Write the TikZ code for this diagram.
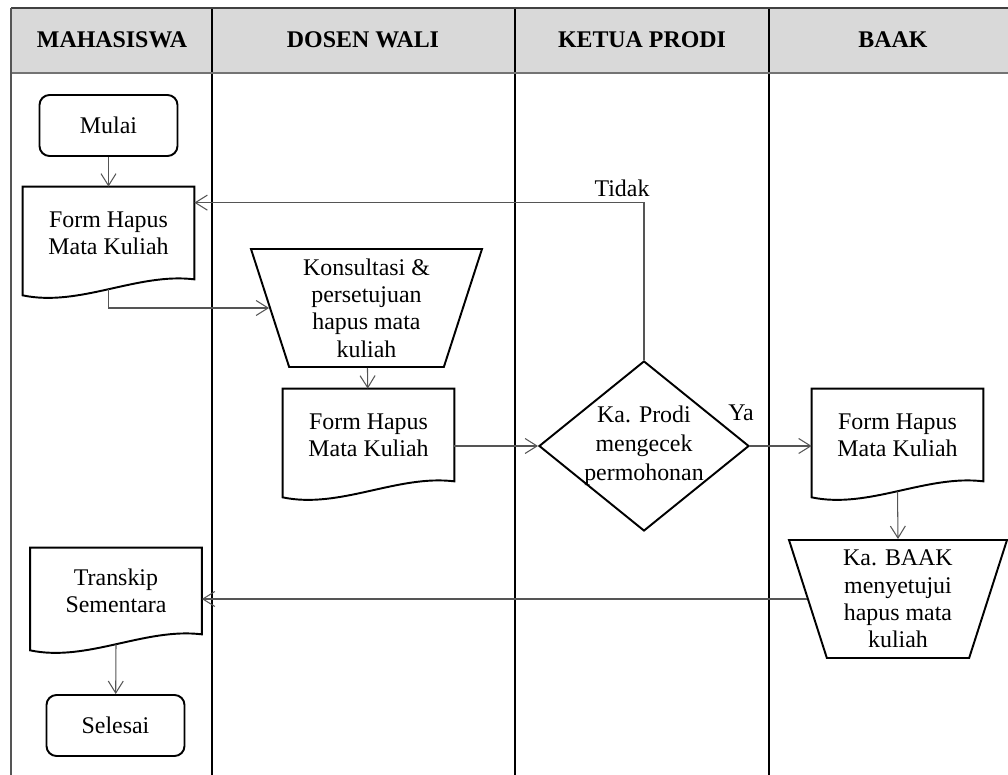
\documentclass[tikz,border=0pt]{standalone}
\usepackage{fontspec}
\setmainfont{Liberation Serif}
\usepackage{tikz}
\usetikzlibrary{arrows.meta,shapes,positioning}
\definecolor{headgray}{RGB}{217,217,217}
\definecolor{linegray}{RGB}{85,85,85}

\begin{document}
\begin{tikzpicture}[x=0.2mm,y=-0.2mm,font=\fontsize{13.6}{15.5}\selectfont,
    >={Straight Barb[length=2.4mm,width=3mm]},
    flow/.style={->,draw=linegray,line width=0.6pt},
    lane/.style={line width=0.6pt},
    terminal/.style={rectangle,rounded corners=2mm,draw,line width=1.1pt,minimum width=2.76cm,minimum height=1.22cm},
    docu/.style={rectangle,align=center,inner sep=0pt,minimum width=3.42cm,minimum height=1.84cm,
      append after command={\pgfextra{\let\docnode\tikzlastnode
        \draw[line width=1.1pt]
        (\docnode.north west) -- (\docnode.north east) -- (\docnode.south east)
        .. controls ([xshift=-1.14cm,yshift=1.4mm]\docnode.south east)
        and ([xshift=1.14cm,yshift=-5.6mm]\docnode.south west)
        .. ([yshift=-3.2mm]\docnode.south west) -- cycle;}}},
    manual/.style={trapezium,shape border rotate=180,trapezium left angle=69.5,trapezium right angle=69.5,
      trapezium stretches body=true,draw,line width=1.1pt,align=center,inner sep=1pt,minimum height=2.36cm},
    decision/.style={diamond,aspect=1.24,draw,line width=1.1pt,align=center,inner xsep=-3mm,inner ysep=0pt,
      minimum width=4.2cm,minimum height=3.4cm,font=\fontsize{13.6}{16.5}\selectfont},
    lanehead/.style={font=\fontsize{13.6}{15.5}\selectfont\bfseries}]
  \useasboundingbox (0,0) rectangle (1008,775);

  % lanes
  \fill[headgray] (11,8) rectangle (1020,73);
  \draw[lane] (212,8) -- (212,775);
  \draw[lane] (515,8) -- (515,775);
  \draw[lane] (769,8) -- (769,775);
  \draw[black!75,line width=1.2pt] (11,8) -- (1020,8);
  \draw[black!55,line width=1.2pt] (11,73) -- (1020,73);
  \draw[linegray,line width=1.1pt] (11,8) -- (11,775);
  \node[lanehead] at (112,40) (mhs) {MAHASISWA};
  \node[lanehead] at (363,40) (dosen) {DOSEN WALI};
  \node[lanehead] at (642,40) (kaprodi) {KETUA PRODI};
  \node[lanehead] at (893,40) (hbaak) {BAAK};

  \node[terminal] at (108.5,125.5) (mulai) {Mulai};
  \node[docu] at (108.5,233) (form1) {Form Hapus\\Mata Kuliah};
  \node[manual,minimum width=4.62cm] at (366.5,308) (konsul) {Konsultasi \&\\persetujuan\\hapus mata\\kuliah};
  \node[docu] at (368.5,435) (form2) {Form Hapus\\Mata Kuliah};
  \node[decision] at (644,446) (cek) {Ka. Prodi\\mengecek\\permohonan};
  \node[docu] at (897.5,435) (form3) {Form Hapus\\Mata Kuliah};
  \node[manual,minimum width=4.36cm] at (898,599) (kabaak) {Ka. BAAK\\menyetujui\\hapus mata\\kuliah};
  \node[docu,minimum height=1.72cm] at (116,591) (transkip) {Transkip\\Sementara};
  \node[terminal] at (115.5,725.5) (selesai) {Selesai};
  \node at (622,188) (tidak) {Tidak};
  \node at (741,413) (ya) {Ya};

  \draw[flow] (mulai) -- (form1);
  \draw[flow] ([yshift=-2mm]form1.south) |- (konsul.west);
  \draw[flow] (konsul) -- (form2);
  \draw[flow] (cek.west -| form2.east) -- (cek.west);
  \draw[flow] (cek.north) |- ([yshift=-3.2mm]form1.north east);
  \draw[flow] (cek.east) -- (cek.east -| form3.west);
  \draw[flow] ([yshift=-2mm]form3.south) -- (kabaak.north);
  \draw[flow] (kabaak.west) -- (kabaak.west -| transkip.east);
  \draw[flow] ([yshift=-2mm]transkip.south) -- (selesai);
\end{tikzpicture}
\end{document}
